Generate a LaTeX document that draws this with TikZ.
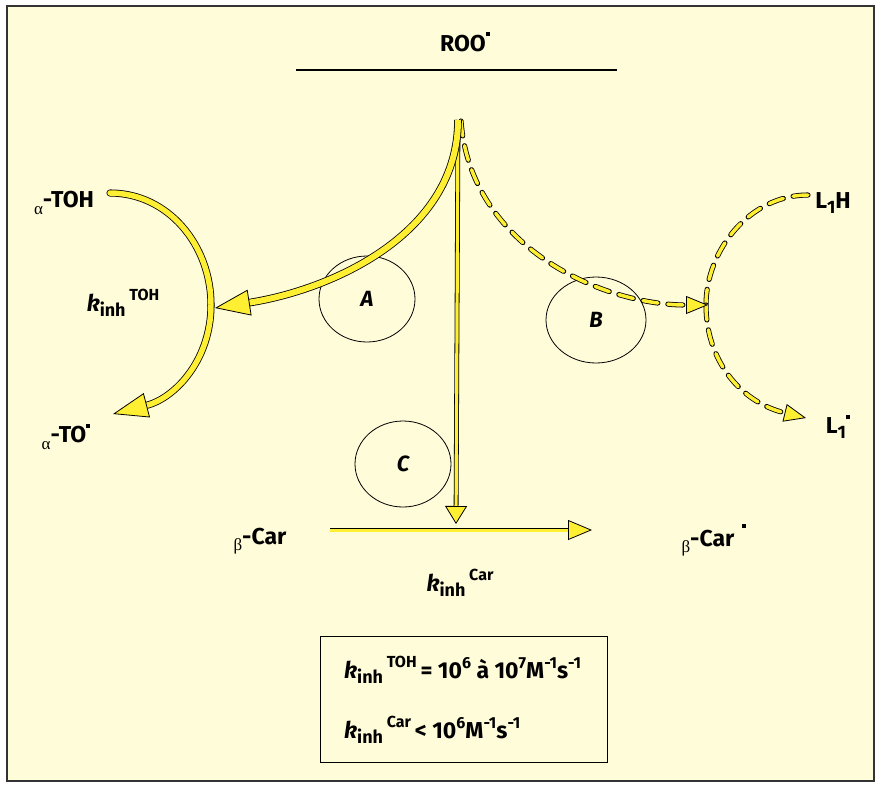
\documentclass[tikz,border=0pt]{standalone}
\usepackage{fontspec}
\setmainfont{Fira Sans}
\newfontfamily\grk{Liberation Serif}
\usetikzlibrary{arrows.meta,shapes.geometric}
\definecolor{bgc}{HTML}{FFFCDA}
\definecolor{arrY}{HTML}{FFEF33}
\definecolor{frm}{HTML}{333333}
\newcommand\rad{\raisebox{1.2ex}{\rule{4pt}{4pt}}}
\newcommand\kinh[1]{{\bfseries\itshape k}\raisebox{-0.45ex}{\fontsize{18}{18}\selectfont\bfseries inh}\,\raisebox{0.85ex}{\fontsize{16}{16}\selectfont\bfseries #1}}
\newcommand\gsub[1]{\raisebox{-0.55ex}{\fontsize{17}{17}\selectfont\grk\mdseries #1}}
\newcommand\sps[1]{\raisebox{0.75ex}{\fontsize{16}{16}\selectfont\bfseries #1}}
\begin{document}
\begin{tikzpicture}[x=1pt,y=-1pt,
  lbl/.style={font=\fontsize{23}{26}\selectfont\bfseries, inner sep=0pt},
  yarrow/.style={draw=black, line width=0.8pt, double=arrY, double distance=#1},
  ytip/.style n args={2}{-{Triangle[length=#1pt,width=#2pt,fill=arrY,line width=0.8pt]}},
  dsh/.style={dash pattern=on 15pt off 10pt, line cap=round},
  ring/.style={draw=black, line width=0.8pt, ellipse, inner sep=0pt, font=\fontsize{22}{24}\selectfont\bfseries\itshape}
]
\useasboundingbox (0,0) rectangle (878,785);
\fill[white] (0,0) rectangle (878,785);
\draw[frm, line width=2pt, fill=bgc] (7,6) rectangle (874,781);

% title
\node[lbl] (roo) at (465,42) {ROO\rad};
\coordinate (barL) at (296,70);
\coordinate (barR) at (617,70);
\draw[line width=1.6pt] (barL) -- (barR);

% circles
\node[ring, minimum width=96pt, minimum height=86pt] (A) at (367,299) {A};
\node[ring, minimum width=100pt, minimum height=86pt] (B) at (596,320) {B};
\node[ring, minimum width=96pt, minimum height=86pt] (C) at (403,464) {C};

% labels
\node[lbl] (toh) at (64,203) {\gsub{α}-TOH};
\node[lbl] (to) at (66,437) {\gsub{α}-TO\rad};
\node[lbl] (ktoh) at (123,303) {\kinh{TOH}};
\node[lbl] (car) at (260,541) {\gsub{β}-Car};
\node[lbl] (carr) at (714,540) {\gsub{β}-Car\hspace{8pt}\raisebox{1.5ex}{\rule{4pt}{4pt}}};
\node[lbl] (kcar) at (460,583) {\kinh{Car}};
\node[lbl] (l1h) at (833,203) {L\raisebox{-0.4ex}{\fontsize{18}{18}\selectfont 1}H};
\node[lbl] (l1) at (838,427) {L\raisebox{-0.4ex}{\fontsize{18}{18}\selectfont 1}\rad};

% value box
\node[draw=black, line width=0.8pt, minimum width=287pt, minimum height=126pt, inner sep=0pt] (box) at (463.5,699) {};
\node[lbl, anchor=west] (v1) at (344,670) {\kinh{TOH}\,= 10\sps{6} à 10\sps{7}M\sps{-1}s\sps{-1}};
\node[lbl, anchor=west] (v2) at (344,730) {\kinh{Car}\,< 10\sps{6}M\sps{-1}s\sps{-1}};

% coordinates
\coordinate (top) at (458,120);
\coordinate (topd) at (461,121);
\coordinate (hitA) at (215,308);
\coordinate (hitC) at (456,524);
\coordinate (hitB) at (708,305);
\coordinate (tohS) at (110,193);
\coordinate (tohM) at (211,305);
\coordinate (tohE) at (113,414);
\coordinate (lhS) at (808,195);
\coordinate (lhM) at (706,305);
\coordinate (lhE) at (806,418);
\coordinate (carS) at (330,530);
\coordinate (carE) at (592,530);

% left arc alpha-TOH -> alpha-TO
\draw[yarrow=5.5pt, line cap=round] (tohS) .. controls (168,193) and (211,245) .. (tohM);
\draw[yarrow=5.5pt, ytip={35}{25}] (tohM) .. controls (211,360) and (175,398) .. (tohE);

% right dashed arc L1H -> L1
\draw[yarrow=3.5pt, dsh] (lhS) .. controls (750,195) and (706,250) .. (lhM);
\draw[yarrow=3.5pt, dsh, ytip={22}{18}] (lhM) .. controls (706,360) and (740,402) .. (lhE);

% beta-Car horizontal
\draw[yarrow=3pt, ytip={24}{20}] (carS) -- (carE);

% from ROO
\draw[yarrow=3.5pt, dsh, ytip={22}{18}] (topd) .. controls (470,245) and (600,305) .. (hitB);
\draw[yarrow=3.2pt, ytip={18}{22}] (top) -- (hitC);
\draw[yarrow=6pt, ytip={35}{26}] (top) .. controls (458,235) and (330,290) .. (hitA);
\end{tikzpicture}
\end{document}
